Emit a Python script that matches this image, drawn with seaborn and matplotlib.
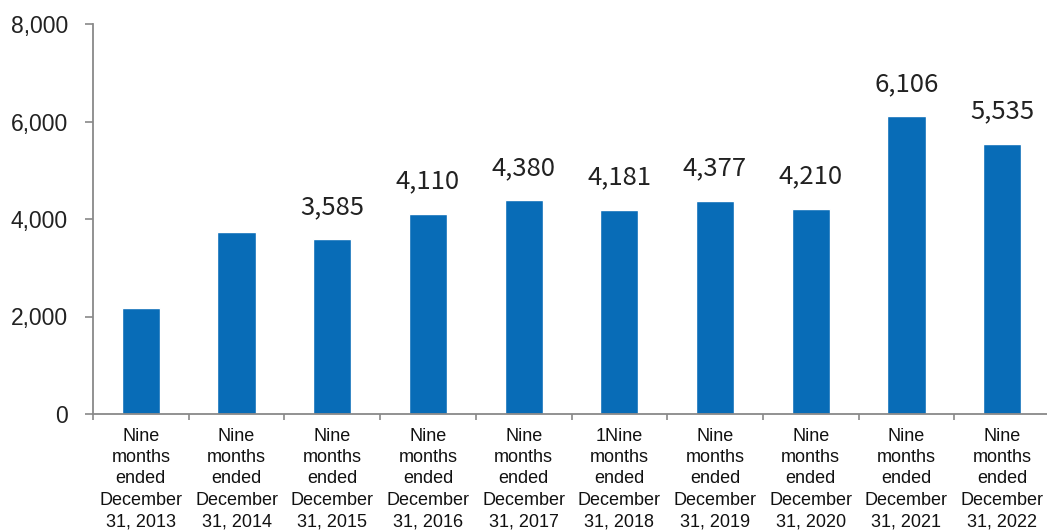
import matplotlib
matplotlib.use("Agg")
import matplotlib.pyplot as plt
import seaborn as sns
import pandas as pd

categories = [
    "Nine\nmonths\nended\nDecember\n31, 2013",
    "Nine\nmonths\nended\nDecember\n31, 2014",
    "Nine\nmonths\nended\nDecember\n31, 2015",
    "Nine\nmonths\nended\nDecember\n31, 2016",
    "Nine\nmonths\nended\nDecember\n31, 2017",
    "1Nine\nmonths\nended\nDecember\n31, 2018",
    "Nine\nmonths\nended\nDecember\n31, 2019",
    "Nine\nmonths\nended\nDecember\n31, 2020",
    "Nine\nmonths\nended\nDecember\n31, 2021",
    "Nine\nmonths\nended\nDecember\n31, 2022",
]
values = [2174, 3735, 3585, 4110, 4380, 4181, 4377, 4210, 6106, 5535]
value_labels = [None, None, "3,585", "4,110", "4,380", "4,181", "4,377", "4,210", "6,106", "5,535"]
y_ticks = [0, 2000, 4000, 6000, 8000]
y_tick_labels = ["0", "2,000", "4,000", "6,000", "8,000"]

sns.set_theme(style="white")
plt.rcParams["font.family"] = ["Liberation Sans", "DejaVu Sans"]

df = pd.DataFrame({"cat": categories, "val": values})

fig = plt.figure(figsize=(10.47, 5.31), dpi=100)
ax = fig.add_axes([93 / 1047, 1 - 414 / 531, 957 / 1047, 390 / 531])

sns.barplot(data=df, x="cat", y="val", color="#086CB7", width=0.4,
            saturation=1, ax=ax, zorder=2)

ax.set_ylim(0, 8000)
ax.set_xlim(-0.5, len(categories) - 0.5)
ax.set_yticks(y_ticks)
ax.set_yticklabels(y_tick_labels)
ax.set_xlabel("")
ax.set_ylabel("")

axis_color = "#898989"
for s in ["top", "right"]:
    ax.spines[s].set_visible(False)
for s in ["left", "bottom"]:
    ax.spines[s].set_color(axis_color)
    ax.spines[s].set_linewidth(1.3)

ax.tick_params(axis="y", which="major", length=6, width=1.2, color=axis_color,
               labelsize=16.5, pad=12, labelcolor="#222222", left=True)
ax.tick_params(axis="x", which="major", length=0, labelsize=13, pad=10,
               labelcolor="#111111")
ax.set_xticks([i - 0.5 for i in range(len(categories) + 1)], minor=True)
ax.tick_params(axis="x", which="minor", length=4, width=1.2, color=axis_color,
               bottom=True)
for lbl in ax.get_xticklabels():
    lbl.set_linespacing(1.33)

for i, (v, lab) in enumerate(zip(values, value_labels)):
    if lab is None:
        continue
    ax.annotate(lab, (i, v), xytext=(0, 14), textcoords="offset points",
                ha="center", va="bottom", fontsize=18.5, color="#222222",
                family=["Noto Sans CJK JP", "DejaVu Sans"])

fig.savefig("out.png", dpi=100)
